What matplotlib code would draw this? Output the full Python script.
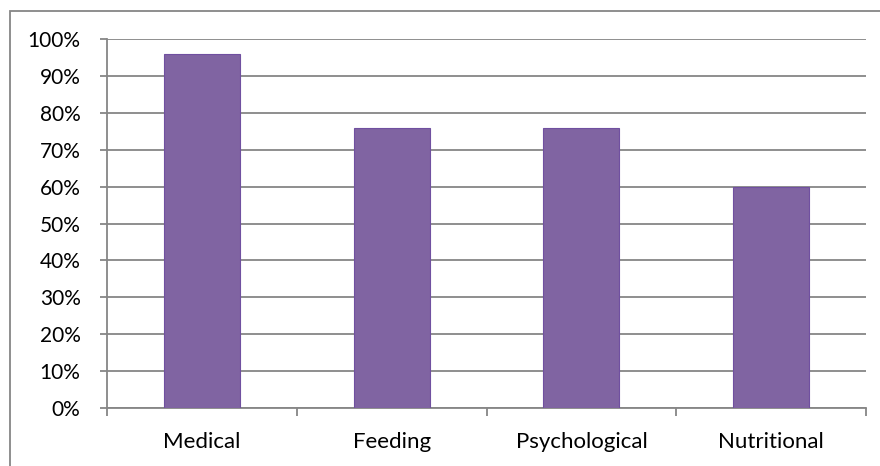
import matplotlib.pyplot as plt
from matplotlib.patches import Rectangle
from matplotlib.ticker import FuncFormatter, FixedLocator

categories = ["Medical", "Feeding", "Psychological", "Nutritional"]
values = [0.96, 0.76, 0.76, 0.60]

grid_col = "#868686"
bar_col = "#8064A2"

plt.rcParams["font.family"] = ["Lato", "DejaVu Sans"]

fig = plt.figure(figsize=(8.8, 4.66), dpi=100)
ax = fig.add_axes([107 / 880, 1 - 408 / 466, (866 - 107) / 880, (408 - 39) / 466])

x = range(len(categories))
ax.bar(x, values, width=0.4, color=bar_col, edgecolor="#7050A0", linewidth=0.8, zorder=3)

ax.set_xlim(-0.5, len(categories) - 0.5)
ax.set_ylim(0, 1.0)
ax.set_yticks([i / 10 for i in range(11)])
ax.yaxis.set_major_formatter(FuncFormatter(lambda v, p: f"{v * 100:.0f}%"))
ax.yaxis.grid(True, color=grid_col, linewidth=1.3, zorder=0)

# category labels centred, ticks at the boundaries
ax.set_xticks(list(x))
ax.set_xticklabels(categories)
ax.xaxis.set_minor_locator(FixedLocator([i - 0.5 for i in range(len(categories) + 1)]))
ax.tick_params(axis="x", which="major", length=0, pad=17, labelsize=16)
ax.tick_params(axis="x", which="minor", length=6, width=1.3, color=grid_col, direction="out")
ax.tick_params(axis="y", length=5, width=1.3, color=grid_col, pad=14, labelsize=15)

for s in ["top", "right"]:
    ax.spines[s].set_visible(False)
for s in ["left", "bottom"]:
    ax.spines[s].set_color(grid_col)
    ax.spines[s].set_linewidth(1.3)

# outer chart border
fig.patches.append(Rectangle((10 / 880, -0.1), 1.2, 1 - 11 / 466 + 0.1,
                             transform=fig.transFigure, fill=False,
                             edgecolor=grid_col, linewidth=1.3, clip_on=False))

fig.savefig("out.png", dpi=100)
